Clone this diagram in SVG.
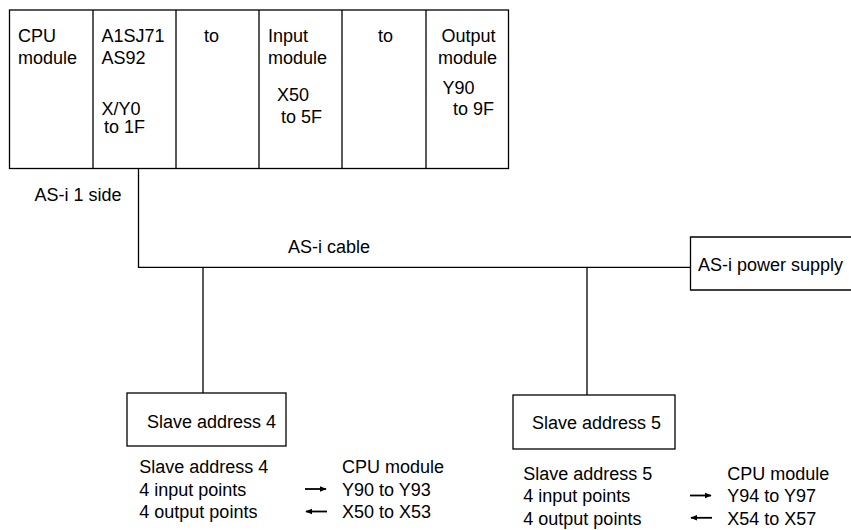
<svg xmlns="http://www.w3.org/2000/svg" width="851" height="530" viewBox="0 0 851 530">
<defs>
<style>
text{font-family:"Liberation Sans",Arial,sans-serif;font-size:18px;fill:#000}
.b{fill:#fff;stroke:#000;stroke-width:1.3}
.l{fill:none;stroke:#000;stroke-width:1.3}
.a{fill:none;stroke:#000;stroke-width:1.8}
</style>
<marker id="ah" viewBox="0 0 10 10" refX="9" refY="5" markerWidth="4" markerHeight="4" orient="auto-start-reverse" markerUnits="strokeWidth">
<path d="M0,1 L10,5 L0,9 z" fill="#000"/>
</marker>
</defs>
<rect width="851" height="530" fill="#fff"/>

<g id="plc-rack">
<rect class="b" x="9.5" y="10" width="499" height="158.5"/>
<path class="l" d="M93,10V168.5M176,10V168.5M259,10V168.5M342,10V168.5M426,10V168.5"/>
<text x="18" y="42">CPU</text>
<text x="18" y="63.5">module</text>
<text x="101.5" y="42">A1SJ71</text>
<text x="101.5" y="63.5">AS92</text>
<text x="101.5" y="115">X/Y0</text>
<text x="104" y="133">to 1F</text>
<text x="204" y="42">to</text>
<text x="268" y="42">Input</text>
<text x="268" y="63.5">module</text>
<text x="277" y="101">X50</text>
<text x="281" y="123">to 5F</text>
<text x="378" y="42">to</text>
<text x="441.5" y="42">Output</text>
<text x="438" y="63.5">module</text>
<text x="442.5" y="93.5">Y90</text>
<text x="453" y="115">to 9F</text>
</g>

<g id="power-supply">
<path class="b" d="M852,237H690.5V290H852"/>
<text x="698" y="271">AS-i power supply</text>
</g>

<g id="slave4">
<rect class="b" x="127" y="393" width="159" height="53"/>
<text x="147" y="428">Slave address 4</text>
</g>

<g id="slave5">
<rect class="b" x="513" y="395" width="162" height="54"/>
<text x="532" y="428.5">Slave address 5</text>
</g>

<g id="connectors">
<path class="l" d="M138.5,168.5V267.3H690.5"/>
<path class="l" d="M203,267.3V393"/>
<path class="l" d="M587,267.3V395"/>
</g>

<g id="labels">
<text x="34.5" y="200.7">AS-i 1 side</text>
<text x="288" y="253.3">AS-i cable</text>
</g>

<g id="table4">
<text x="139.3" y="473">Slave address 4</text>
<text x="139.3" y="495.5">4 input points</text>
<text x="139.3" y="518">4 output points</text>
<text x="342" y="473">CPU module</text>
<text x="342" y="495.5">Y90 to Y93</text>
<text x="342" y="518">X50 to X53</text>
<path class="a" d="M305,489H326" marker-end="url(#ah)"/>
<path class="a" d="M306,511.5H327" marker-start="url(#ah)"/>
</g>

<g id="table5">
<text x="523.3" y="480">Slave address 5</text>
<text x="523.3" y="502.3">4 input points</text>
<text x="523.3" y="524.5">4 output points</text>
<text x="727.3" y="480">CPU module</text>
<text x="727.3" y="502.3">Y94 to Y97</text>
<text x="727.3" y="524.5">X54 to X57</text>
<path class="a" d="M690,495.5H711" marker-end="url(#ah)"/>
<path class="a" d="M691,517.8H712" marker-start="url(#ah)"/>
</g>
</svg>
